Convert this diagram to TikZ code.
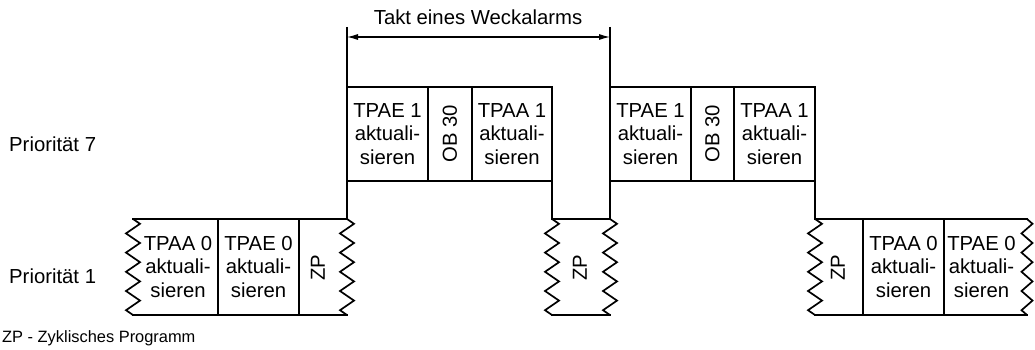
\documentclass[tikz,border=0pt]{standalone}
\usepackage{fontspec}
\setmainfont{Liberation Sans}
\usetikzlibrary{arrows.meta,decorations.pathmorphing}
\begin{document}
\begin{tikzpicture}[x=1pt,y=-1pt,
  ln/.style={line width=1.7pt,line cap=rect},
  jag/.style={line width=1.7pt,decorate,decoration={zigzag,segment length=19.2pt,amplitude=7pt}},
  jagr/.style={jag,decoration={amplitude=5.5pt}},
  lbl/.style={font=\fontsize{20.3}{23.5}\selectfont,align=center,inner sep=0pt},
  rot/.style={lbl,rotate=90},
  dim/.style={line width=1.1pt,{Latex[length=11pt,width=6pt]}-{Latex[length=11pt,width=6pt]}},
  ext/.style={line width=1.1pt}]
\useasboundingbox (0,0) rectangle (1035,350);

% ---- texts ----
\node[lbl,anchor=west] (p7) at (9,144) {Priorität 7};
\node[lbl,anchor=west] (p1) at (9,276) {Priorität 1};
\node[lbl,anchor=west,font=\fontsize{16.4}{19}\selectfont] (leg) at (2,338) {ZP - Zyklisches Programm};
\node[lbl] (takt) at (478,17) {Takt eines Weckalarms};

% ---- dimension ----
\coordinate (dl) at (347,37);
\coordinate (dr) at (610,37);
\draw[ext] (347,27) -- (347,87);
\draw[ext] (610,27) -- (610,87);
\draw[dim] (dl) -- (dr);

% ---- priority 7, first ----
\draw[ln] (347,87) rectangle (552,181);
\draw[ln] (428,87) -- (428,181);
\draw[ln] (472,87) -- (472,181);
\node[lbl] (tpae1a) at (387.5,134) {TPAE 1\\aktuali-\\sieren};
\node[rot] (ob30a) at (450,134) {OB 30};
\node[lbl] (tpaa1a) at (512,134) {TPAA 1\\aktuali-\\sieren};

% ---- priority 7, second ----
\draw[ln] (610,87) rectangle (815,181);
\draw[ln] (691,87) -- (691,181);
\draw[ln] (734,87) -- (734,181);
\node[lbl] (tpae1b) at (650.5,134) {TPAE 1\\aktuali-\\sieren};
\node[rot] (ob30b) at (712.5,134) {OB 30};
\node[lbl] (tpaa1b) at (774.5,134) {TPAA 1\\aktuali-\\sieren};

% ---- priority 1, left ----
\draw[ln] (133,219) -- (347,219) -- (347,181);
\draw[ln] (133,315) -- (347,315);
\draw[jag] (133,219) -- (133,315);
\draw[jag] (347,219) -- (347,315);
\draw[ln] (218,219) -- (218,315);
\draw[ln] (299,219) -- (299,315);
\node[lbl] (tpaa0a) at (178,267) {TPAA 0\\aktuali-\\sieren};
\node[lbl] (tpae0a) at (258.5,267) {TPAE 0\\aktuali-\\sieren};
\node[rot] (zpa) at (318,268) {ZP};

% ---- priority 1, middle ----
\draw[ln] (552,181) -- (552,219) -- (610,219) -- (610,181);
\draw[ln] (552,315) -- (610,315);
\draw[jag] (552,219) -- (552,315);
\draw[jag] (610,219) -- (610,315);
\node[rot] (zpb) at (580,268) {ZP};

% ---- priority 1, right ----
\draw[ln] (815,181) -- (815,219) -- (1027,219);
\draw[ln] (815,315) -- (1027,315);
\draw[jag] (815,219) -- (815,315);
\draw[jagr] (1027,219) -- (1027,315);
\draw[ln] (863,219) -- (863,315);
\draw[ln] (944,219) -- (944,315);
\node[rot] (zpc) at (838,268) {ZP};
\node[lbl] (tpaa0c) at (903.5,267) {TPAA 0\\aktuali-\\sieren};
\node[lbl] (tpae0c) at (981.5,267) {TPAE 0\\aktuali-\\sieren};
\end{tikzpicture}
\end{document}
